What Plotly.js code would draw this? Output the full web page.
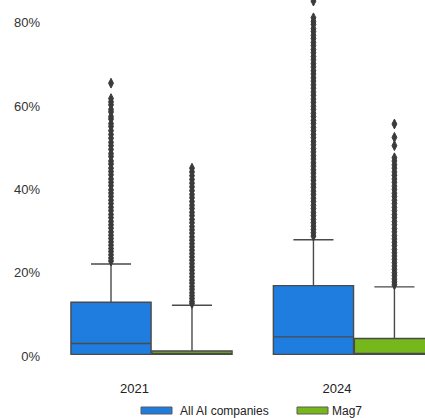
<!DOCTYPE html>
<html>
<head>
<meta charset="utf-8">
<script src="https://cdn.plot.ly/plotly-3.0.1.min.js"></script>
<style>
  html, body { margin: 0; padding: 0; background: #ffffff; }
  #chart { width: 425px; height: 418px; }
</style>
</head>
<body>
<div id="chart"></div>
<script>
// Categories and series names
const years = ['2021', '2024'];
const seriesNames = ['All AI companies', 'Mag7'];

// Box statistics (percent), one entry per year
const aiLowerFence = [0.4, 0.4];
const aiQ1         = [0.4, 0.4];
const aiMedian     = [3.0, 4.6];
const aiQ3         = [12.9, 16.9];
const aiUpperFence = [22.1, 27.9];

const magLowerFence = [0.4, 0.4];
const magQ1         = [0.4, 0.4];
const magMedian     = [0.45, 0.45];
const magQ3         = [1.2, 4.2];
const magUpperFence = [12.2, 16.6];

// Outlying observations (percent)
const aiOutliers2021 = [65.5, 61.8, 61.0, 60.3, 59.2, 58.6, 57.5, 56.9, 55.8, 55.1, 54.1, 53.2, 52.3, 51.3,
  50.5, 49.6, 48.6, 47.9, 46.8, 46.1, 45.1, 44.3, 43.5, 42.5, 41.7, 40.9, 39.9, 39.1, 38.3, 37.4,
  36.6, 35.7, 34.9, 34.0, 33.2, 32.3, 31.5, 30.7, 29.8, 29.0, 28.2, 27.4, 26.6, 25.8, 25.1, 24.3, 23.5, 22.8];
const aiOutliers2024 = [85.2, 81.2, 80.3, 79.6, 78.6, 77.9, 77.0, 76.2, 75.3, 74.5, 73.6, 72.8, 71.9, 71.1,
  70.2, 69.4, 68.5, 67.7, 66.8, 66.0, 65.1, 64.3, 63.4, 62.6, 61.7, 60.9, 60.0, 59.2, 58.3, 57.5,
  56.6, 55.8, 54.9, 54.1, 53.2, 52.4, 51.5, 50.7, 49.8, 49.0, 48.1, 47.3, 46.4, 45.6, 44.7, 43.9,
  43.0, 42.2, 41.3, 40.5, 39.6, 38.8, 37.9, 37.1, 36.2, 35.4, 34.5, 33.7, 32.8, 32.0, 31.2, 30.4,
  29.6, 28.8];
const magOutliers2021 = [45.1, 44.2, 43.3, 42.4, 41.5, 40.6, 39.7, 38.8, 38.0, 37.1, 36.2, 35.4, 34.5, 33.7,
  32.8, 32.0, 31.1, 30.3, 29.5, 28.6, 27.8, 27.0, 26.2, 25.4, 24.6, 23.8, 23.0, 22.2, 21.4, 20.6,
  19.8, 19.0, 18.2, 17.5, 16.7, 16.0, 15.2, 14.5, 13.8, 13.1, 12.6];
const magOutliers2024 = [55.7, 52.5, 50.5, 47.6, 46.8, 45.9, 45.1, 44.2, 43.4, 42.5, 41.7, 40.8, 40.0, 39.1,
  38.3, 37.4, 36.6, 35.7, 34.9, 34.0, 33.2, 32.3, 31.5, 30.6, 29.8, 28.9, 28.1, 27.3, 26.5, 25.6,
  24.8, 24.0, 23.2, 22.4, 21.6, 20.8, 20.0, 19.3, 18.5, 17.8, 17.1];

// Y-axis ticks and their labels
const yTicks = [0, 20, 40, 60, 80];
const yTickLabels = ['0%', '20%', '40%', '60%', '80%'];

const colors = ['#1f7de0', '#76b71b'];
const edgeColor = '#4a4a4a';
const flierColor = '#3b3b3b';
const FONT = '"Liberation Sans", Arial, sans-serif';

function boxTrace(name, color, lf, q1, med, q3, uf, samples) {
  return {
    type: 'box',
    orientation: 'v',
    name: name,
    x: years,
    lowerfence: lf,
    q1: q1,
    median: med,
    q3: q3,
    upperfence: uf,
    y: samples,
    boxpoints: 'outliers',
    pointpos: 0,
    jitter: 0,
    whiskerwidth: 0.5,
    fillcolor: color,
    line: { color: edgeColor, width: 1.4 },
    marker: { symbol: 'diamond-tall', size: 7, color: flierColor,
              line: { color: flierColor, width: 1 } },
    showlegend: false,
    hoverinfo: 'skip'
  };
}

const data = [
  boxTrace(seriesNames[0], colors[0], aiLowerFence, aiQ1, aiMedian, aiQ3, aiUpperFence,
           [aiOutliers2021, aiOutliers2024]),
  boxTrace(seriesNames[1], colors[1], magLowerFence, magQ1, magMedian, magQ3, magUpperFence,
           [magOutliers2021, magOutliers2024])
];

// Plot-area geometry in pixels
const W = 425, H = 418;
const ML = 44, MR = 0, MT = 0, MB = 52;
const PW = W - ML - MR, PH = H - MT - MB;
const toPaperX = p => (p - ML) / PW;
const toPaperY = p => (H - MB - p) / PH;

// Hand-drawn legend: wide swatches followed by labels
const legendSwatches = [[141, 172], [297, 328]];
const legendTextX = [178.5, 331];
const legendTop = 407, legendBottom = 414, legendMid = 410.5;

const shapes = legendSwatches.map((s, i) => ({
  type: 'rect', xref: 'paper', yref: 'paper',
  x0: toPaperX(s[0]), x1: toPaperX(s[1]),
  y0: toPaperY(legendBottom), y1: toPaperY(legendTop),
  fillcolor: colors[i], line: { color: '#5a5a5a', width: 1 }
}));

const annotations = seriesNames.map((n, i) => ({
  text: n, xref: 'paper', yref: 'paper',
  x: toPaperX(legendTextX[i]), y: toPaperY(legendMid),
  xanchor: 'left', yanchor: 'middle', showarrow: false, borderpad: 0,
  font: { family: FONT, size: 12, color: '#222' }
}));

const layout = {
  width: W, height: H,
  margin: { l: ML, r: MR, t: MT, b: MB, pad: 0 },
  paper_bgcolor: '#ffffff', plot_bgcolor: '#ffffff',
  boxmode: 'group', boxgap: 0.2, boxgroupgap: 0.01,
  showlegend: false,
  font: { family: FONT, size: 13, color: '#333' },
  xaxis: {
    type: 'category', range: [-0.531, 1.351],
    showgrid: false, zeroline: false, showline: false, ticks: '',
    ticklabelshift: -17, ticklabelstandoff: 13,
    tickfont: { family: FONT, size: 13, color: '#222' }
  },
  yaxis: {
    range: [-2.4, 85.47],
    tickmode: 'array', tickvals: yTicks, ticktext: yTickLabels,
    showgrid: false, zeroline: false, showline: false, ticks: '',
    ticklabelstandoff: 3,
    tickfont: { family: FONT, size: 13, color: '#333' }
  },
  shapes: shapes,
  annotations: annotations
};

Plotly.newPlot('chart', data, layout, { displayModeBar: false, staticPlot: true });
</script>
</body>
</html>
